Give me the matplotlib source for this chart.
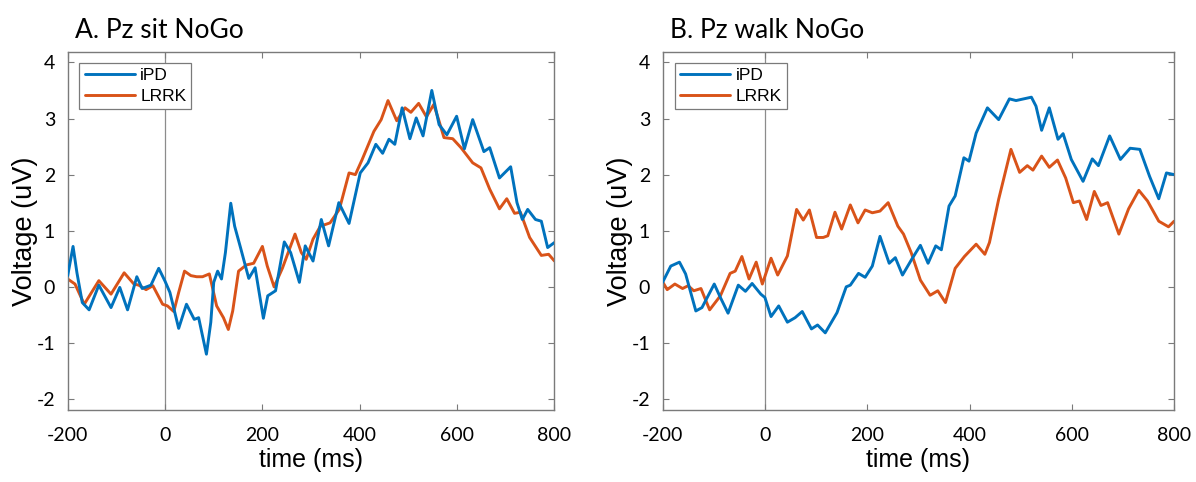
import numpy as np
import matplotlib
matplotlib.use("Agg")
import matplotlib.pyplot as plt

# panel A: Pz sit NoGo
sit_ipd_t = [-200, -189, -181, -170, -156, -136, -111, -93, -77, -58, -47, -29, -13, 0, 10,
             28, 44, 60, 69, 85, 94, 100, 108, 116, 124, 135, 143, 155, 172, 185, 202, 211,
             227, 245, 258, 276, 288, 304, 321, 336, 357, 378, 401, 417, 433, 447, 460, 472,
             487, 503, 516, 530, 548, 563, 579, 599, 615, 632, 655, 667, 687, 710, 723, 734,
             745, 761, 773, 786, 800]
sit_ipd_v = [0.2, 0.72, 0.25, -0.28, -0.41, 0.03, -0.37, -0.01, -0.41, 0.18, -0.03, 0.03, 0.33,
             0.1, -0.1, -0.74, -0.31, -0.58, -0.55, -1.2, -0.63, 0.08, 0.28, 0.14, 0.61, 1.49,
             1.08, 0.7, 0.15, 0.34, -0.56, -0.16, -0.07, 0.8, 0.61, 0.08, 0.73, 0.46, 1.2, 0.73,
             1.5, 1.13, 2.03, 2.21, 2.54, 2.38, 2.63, 2.54, 3.19, 2.64, 3.01, 2.69, 3.5, 2.89,
             2.71, 3.04, 2.46, 2.98, 2.41, 2.48, 1.94, 2.14, 1.5, 1.2, 1.38, 1.2, 1.17, 0.7, 0.79]

sit_lrrk_t = [-200, -185, -166, -136, -111, -84, -64, -54, -39, -25, -5, 5, 18, 28, 40, 53, 65,
              77, 91, 106, 120, 130, 139, 151, 167, 182, 200, 210, 224, 241, 267, 280, 290, 304,
              319, 339, 358, 378, 391, 405, 429, 444, 458, 476, 493, 505, 521, 537, 552, 562,
              573, 591, 608, 632, 649, 667, 687, 702, 718, 730, 749, 773, 788, 800]
sit_lrrk_v = [0.14, 0.05, -0.31, 0.11, -0.13, 0.25, 0.05, 0.03, -0.05, 0.02, -0.31, -0.34, -0.44,
              -0.1, 0.28, 0.2, 0.18, 0.18, 0.23, -0.34, -0.55, -0.76, -0.43, 0.28, 0.39, 0.42,
              0.72, 0.37, 0.0, 0.33, 0.94, 0.61, 0.49, 0.85, 1.08, 1.14, 1.38, 2.03, 2.0, 2.27,
              2.77, 2.98, 3.32, 2.96, 3.19, 3.11, 3.27, 3.03, 3.25, 2.98, 2.66, 2.64, 2.48, 2.21,
              2.12, 1.74, 1.39, 1.57, 1.31, 1.33, 0.88, 0.56, 0.58, 0.46]

# panel B: Pz walk NoGo
walk_ipd_t = [-200, -184, -167, -155, -135, -123, -99, -87, -72, -52, -38, -25, -8, 0, 12, 27,
              44, 59, 73, 91, 103, 118, 141, 159, 167, 183, 196, 210, 225, 243, 255, 269, 287,
              304, 319, 334, 345, 360, 372, 389, 399, 413, 435, 457, 478, 491, 521, 530, 541,
              556, 573, 583, 599, 622, 640, 652, 674, 695, 714, 733, 752, 770, 785, 800]
walk_ipd_v = [0.08, 0.37, 0.44, 0.23, -0.43, -0.37, 0.05, -0.19, -0.47, 0.03, -0.08, 0.06, -0.13,
              -0.19, -0.53, -0.34, -0.63, -0.55, -0.44, -0.75, -0.68, -0.82, -0.46, 0.0, 0.03,
              0.24, 0.17, 0.37, 0.9, 0.42, 0.52, 0.21, 0.49, 0.74, 0.42, 0.73, 0.66, 1.44, 1.62,
              2.3, 2.24, 2.74, 3.19, 2.98, 3.35, 3.32, 3.38, 3.22, 2.79, 3.19, 2.63, 2.73, 2.27,
              1.88, 2.28, 2.16, 2.69, 2.27, 2.47, 2.45, 1.97, 1.57, 2.03, 2.0]

walk_lrrk_t = [-200, -191, -176, -161, -150, -139, -125, -108, -87, -68, -58, -45, -31, -17, -5,
               12, 25, 44, 62, 75, 87, 101, 114, 123, 137, 150, 167, 182, 196, 210, 225, 241,
               260, 271, 286, 304, 323, 338, 353, 372, 390, 413, 430, 439, 457, 481, 498, 513,
               524, 541, 556, 572, 588, 603, 615, 629, 644, 657, 670, 692, 711, 731, 748, 770,
               789, 800]
walk_lrrk_v = [0.09, -0.05, 0.05, -0.03, 0.02, -0.07, -0.03, -0.41, -0.16, 0.24, 0.28, 0.54, 0.14,
               0.44, 0.05, 0.51, 0.21, 0.55, 1.38, 1.19, 1.37, 0.88, 0.88, 0.91, 1.33, 1.03, 1.46,
               1.14, 1.37, 1.32, 1.35, 1.5, 1.08, 0.94, 0.61, 0.12, -0.15, -0.07, -0.28, 0.33,
               0.54, 0.76, 0.58, 0.79, 1.56, 2.45, 2.04, 2.16, 2.08, 2.33, 2.13, 2.26, 1.94, 1.5,
               1.53, 1.2, 1.7, 1.45, 1.5, 0.94, 1.39, 1.72, 1.53, 1.17, 1.07, 1.17]

titles = ["A. Pz sit NoGo", "B. Pz walk NoGo"]
x_ticks = [-200, 0, 200, 400, 600, 800]
y_ticks = [-2, -1, 0, 1, 2, 3, 4]

BLUE = "#0072BD"
ORANGE = "#D95319"
EDGE = "#7a7a7a"

plt.rcParams["axes.unicode_minus"] = False

fig = plt.figure(figsize=(11.96, 4.82), dpi=100)
ax_a = fig.add_axes([0.0566, 0.1488, 0.407, 0.7427])
ax_b = fig.add_axes([0.554, 0.1488, 0.4277, 0.7427])

panels = [(ax_a, sit_ipd_t, sit_ipd_v, sit_lrrk_t, sit_lrrk_v),
          (ax_b, walk_ipd_t, walk_ipd_v, walk_lrrk_t, walk_lrrk_v)]

for (ax, it, iv, lt, lv), title in zip(panels, titles):
    ax.axvline(0, color="#8c8c8c", lw=0.9, zorder=1)
    ax.plot(it, iv, color=BLUE, lw=2.1, label="iPD", zorder=3,
            solid_joinstyle="round", solid_capstyle="round")
    ax.plot(lt, lv, color=ORANGE, lw=2.1, label="LRRK", zorder=2,
            solid_joinstyle="round", solid_capstyle="round")
    ax.set_xlim(-200, 800)
    ax.set_ylim(-2.2, 4.18)
    ax.set_xticks(x_ticks)
    ax.set_yticks(y_ticks)
    ax.tick_params(direction="in", top=True, right=True, length=4, width=0.8,
                   color=EDGE, labelsize=14)
    ax.tick_params(axis="x", pad=12)
    ax.tick_params(axis="y", pad=9)
    for lab in ax.get_xticklabels() + ax.get_yticklabels():
        lab.set_family("Lato")
    for sp in ax.spines.values():
        sp.set_color(EDGE)
        sp.set_linewidth(1.0)
    ax.set_xlabel("time (ms)", fontsize=18, family="Liberation Sans", labelpad=3)
    ax.set_ylabel("Voltage (uV)", fontsize=19.5, family="Liberation Sans", labelpad=-1)
    ax.set_title(title, loc="left", fontsize=19, family="Lato", x=0.015, pad=10)
    leg = ax.legend(loc="upper left", bbox_to_anchor=(0.024, 0.97), fancybox=False,
                    edgecolor=EDGE, framealpha=1, handlelength=2.9, handletextpad=0.3,
                    borderpad=0.3, labelspacing=0.3, borderaxespad=0.0,
                    prop={"family": "Liberation Sans", "size": 12.5})
    leg.get_frame().set_linewidth(0.9)

fig.savefig("out.png", dpi=100)
